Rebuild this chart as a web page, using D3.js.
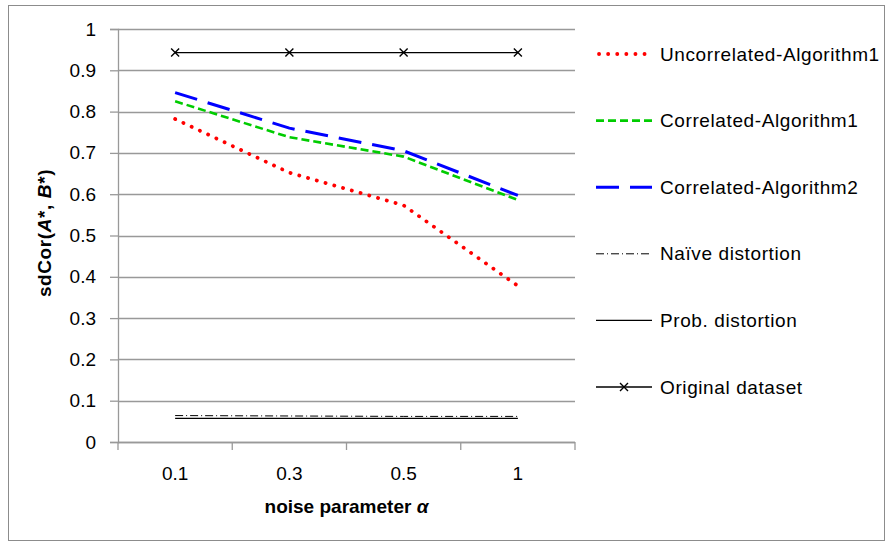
<!DOCTYPE html>
<html>
<head>
<meta charset="utf-8">
<script src="https://cdn.jsdelivr.net/npm/d3@7"></script>
<style>
  body { margin: 0; background: #fff; }
  svg { font-family: "Liberation Sans", Arial, sans-serif; }
</style>
</head>
<body>
<div id="chart"></div>
<script>
// noise parameter categories
var categories = ['0.1', '0.3', '0.5', '1'];
var yTicks = [0, 0.1, 0.2, 0.3, 0.4, 0.5, 0.6, 0.7, 0.8, 0.9, 1];

var uncorrAlg1 = [0.782, 0.652, 0.573, 0.378];
var corrAlg1 = [0.825, 0.738, 0.691, 0.586];
var corrAlg2 = [0.846, 0.760, 0.705, 0.597];
var naiveDist = [0.064, 0.063, 0.062, 0.062];
var probDist = [0.057, 0.057, 0.057, 0.057];
var original = [0.943, 0.943, 0.943, 0.943];

var seriesNames = ['Uncorrelated-Algorithm1', 'Correlated-Algorithm1', 'Correlated-Algorithm2',
                   'Naïve distortion', 'Prob. distortion', 'Original dataset'];
var seriesValues = [uncorrAlg1, corrAlg1, corrAlg2, naiveDist, probDist, original];

var styles = [
  {color: '#ff0000', width: 3.8, dash: '0.1,9', cap: 'round'},
  {color: '#00cc00', width: 2.6, dash: '8,4', cap: 'butt'},
  {color: '#0000ff', width: 3, dash: '23,11', cap: 'butt'},
  {color: '#000', width: 1, dash: '8,3,1,3', cap: 'butt'},
  {color: '#000', width: 1.3, dash: null, cap: 'butt'},
  {color: '#000', width: 1.3, dash: null, cap: 'butt', marker: true}
];

var W = 888, H = 546;
var margin = {top: 29, left: 118, right: 313, bottom: 104};
var width = W - margin.left - margin.right,
    height = H - margin.top - margin.bottom;
var fontSize = 19;

var svg = d3.select('#chart').append('svg')
    .attr('width', W)
    .attr('height', H);

// outer border
svg.append('rect')
    .attr('x', 8.5).attr('y', 5.5)
    .attr('width', 876).attr('height', 535)
    .attr('fill', 'none')
    .attr('stroke', '#8c8c8c');

var g = svg.append('g').attr('transform', 'translate(' + margin.left + ',' + margin.top + ')');

var x = d3.scaleBand().domain(categories).range([0, width]);
var y = d3.scaleLinear().domain([0, 1]).range([height, 0]);

// grid
g.append('g')
  .selectAll('line')
  .data(yTicks)
  .enter().append('line')
    .attr('x1', 0).attr('x2', width)
    .attr('y1', function(d) { return Math.round(y(d)) + 0.5; })
    .attr('y2', function(d) { return Math.round(y(d)) + 0.5; })
    .attr('stroke', '#999')
    .attr('stroke-width', 1.3);

// y axis
var yAxis = g.append('g')
    .call(d3.axisLeft(y).tickValues(yTicks).tickSize(8).tickPadding(14).tickFormat(function(d) { return d3.format('')(d); }));
yAxis.select('.domain').attr('stroke', '#999').attr('stroke-width', 1.3);
yAxis.selectAll('.tick line').attr('stroke', '#999').attr('stroke-width', 1.3);
yAxis.selectAll('text').attr('font-size', fontSize).attr('fill', '#000')
    .attr('font-family', '"Liberation Sans", Arial, sans-serif');

// x axis with ticks at band boundaries
var xAxis = g.append('g').attr('transform', 'translate(0,' + height + ')');
xAxis.append('line').attr('x1', 0).attr('x2', width).attr('y1', 0.5).attr('y2', 0.5)
    .attr('stroke', '#999').attr('stroke-width', 1.3);
var bounds = categories.map(function(c) { return x(c); }).concat([width]);
xAxis.selectAll('.xt').data(bounds).enter().append('line')
    .attr('x1', function(d) { return d; }).attr('x2', function(d) { return d; })
    .attr('y1', 0).attr('y2', 8)
    .attr('stroke', '#999').attr('stroke-width', 1.3);
xAxis.selectAll('text').data(categories).enter().append('text')
    .attr('x', function(d) { return x(d) + x.bandwidth() / 2; })
    .attr('y', 38)
    .attr('text-anchor', 'middle')
    .attr('font-size', fontSize)
    .text(function(d) { return d; });

// axis titles
svg.append('text')
    .attr('x', margin.left + width / 2)
    .attr('y', 513)
    .attr('text-anchor', 'middle')
    .attr('font-size', fontSize)
    .attr('font-weight', 'bold')
    .text('noise parameter ')
    .append('tspan').attr('font-style', 'italic').text('α');

var yt = svg.append('text')
    .attr('transform', 'translate(51,233) rotate(-90)')
    .attr('text-anchor', 'middle')
    .attr('font-size', fontSize)
    .attr('font-weight', 'bold')
    .attr('letter-spacing', 0.6);
yt.append('tspan').text('sdCor(');
yt.append('tspan').attr('font-style', 'italic').text('A');
yt.append('tspan').text('*, ');
yt.append('tspan').attr('font-style', 'italic').text('B');
yt.append('tspan').text('*)');

// series lines
var line = d3.line()
    .x(function(d, i) { return x(categories[i]) + x.bandwidth() / 2; })
    .y(function(d) { return y(d); });

var order = [4, 3, 5, 0, 1, 2];
order.forEach(function(k) {
  var s = styles[k];
  g.append('path')
    .datum(seriesValues[k])
    .attr('d', line)
    .attr('fill', 'none')
    .attr('stroke', s.color)
    .attr('stroke-width', s.width)
    .attr('stroke-dasharray', s.dash)
    .attr('stroke-linecap', s.cap);
  if (s.marker) {
    g.selectAll('.mk' + k).data(seriesValues[k]).enter().append('path')
      .attr('transform', function(d, i) { return 'translate(' + (x(categories[i]) + x.bandwidth() / 2) + ',' + y(d) + ')'; })
      .attr('d', 'M-4,-4L4,4M-4,4L4,-4')
      .attr('stroke', '#000')
      .attr('stroke-width', 1.4);
  }
});

// legend
var legend = svg.append('g')
    .selectAll('g')
    .data(seriesNames)
    .enter().append('g')
    .attr('transform', function(d, i) { return 'translate(596,' + (54 + i * 66.6) + ')'; });

legend.append('line')
    .attr('x1', function(d, i) { return i == 0 ? 3 : 0; })
    .attr('x2', 56).attr('y1', 0).attr('y2', 0)
    .attr('stroke', function(d, i) { return styles[i].color; })
    .attr('stroke-width', function(d, i) { return styles[i].width; })
    .attr('stroke-dasharray', function(d, i) { return styles[i].dash; })
    .attr('stroke-linecap', function(d, i) { return styles[i].cap; });

legend.filter(function(d, i) { return styles[i].marker; })
    .append('path')
    .attr('transform', 'translate(28,0)')
    .attr('d', 'M-4,-4L4,4M-4,4L4,-4')
    .attr('stroke', '#000')
    .attr('stroke-width', 1.4);

legend.append('text')
    .attr('x', 64)
    .attr('y', 0)
    .attr('dy', '0.35em')
    .attr('font-size', fontSize)
    .attr('letter-spacing', 0.6)
    .text(function(d) { return d; });
</script>
</body>
</html>
